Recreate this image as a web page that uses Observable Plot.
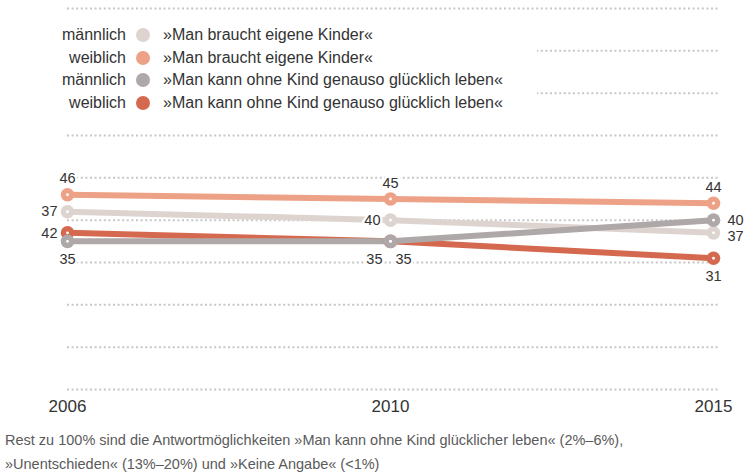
<!DOCTYPE html>
<html>
<head>
<meta charset="utf-8">
<script src="https://cdn.jsdelivr.net/npm/d3@7"></script>
<script src="https://cdn.jsdelivr.net/npm/@observablehq/plot@0.6"></script>
<style>
  body { margin: 0; background: #fff; font-family: "Liberation Sans", Arial, sans-serif; color: #333; }
  #wrap { position: relative; width: 744px; }
  #legend { position: absolute; left: 0; top: 20px; width: 537px; height: 100px; background: #fff; }
  .row { position: absolute; left: 0; height: 22px; font-size: 16px; line-height: 22px; white-space: nowrap; }
  .row .g { position: absolute; left: 0; width: 126px; text-align: right; }
  .row .sw { position: absolute; left: 136px; top: 4px; width: 14px; height: 14px; border-radius: 50%; }
  .row .t { position: absolute; left: 163px; }
  #caption { font-size: 14.5px; line-height: 24px; color: #5a5a5a; padding-left: 5px; margin-top: 8px; }
</style>
</head>
<body>
<div id="wrap"><div id="legend"></div></div>
<div id="caption"></div>
<script>
// ---- data ----
const years = [2006, 2010, 2015];
const seriesKeys = ["mEigene", "wEigene", "mOhne", "wOhne"];
const genders = ["männlich", "weiblich", "männlich", "weiblich"];
const statements = ["»Man braucht eigene Kinder«", "»Man braucht eigene Kinder«",
  "»Man kann ohne Kind genauso glücklich leben«", "»Man kann ohne Kind genauso glücklich leben«"];
const colors = ["#ddd4d0", "#eda287", "#aea8a8", "#d4694f"];
const mEigene = [42, 40, 37];
const wEigene = [46, 45, 44];
const mOhne = [35, 35, 40];
const wOhne = [37, 35, 31];
const mEigeneLabels = ["37", "40", "37"];
const wEigeneLabels = ["46", "45", "44"];
const mOhneLabels = ["35", "35", "40"];
const wOhneLabels = ["42", "35", "31"];
const gridValues = [90, 60, 50, 40, 30, 20, 10, 0];
const partialGridValues = [80, 70];
const captionLines = [
  "Rest zu 100% sind die Antwortmöglichkeiten »Man kann ohne Kind glücklicher leben« (2%–6%),",
  "»Unentschieden« (13%–20%) und »Keine Angabe« (<1%)"
];

// ---- build table ----
const valuesBy = {mEigene, wEigene, mOhne, wOhne};
const labelsBy = {mEigene: mEigeneLabels, wEigene: wEigeneLabels, mOhne: mOhneLabels, wOhne: wOhneLabels};
const drawOrder = ["mEigene", "wEigene", "wOhne", "mOhne"];
const rows = [];
for (const s of drawOrder) years.forEach((y, i) => rows.push({series: s, year: y, value: valuesBy[s][i], label: labelsBy[s][i]}));

// label placement (style, not data)
function place(d) {
  if (d.series === "wEigene") return "above";
  if (d.series === "mEigene") return d.year === 2015 ? "rightLow" : "left";
  if (d.series === "mOhne") return d.year === 2015 ? "rightHigh" : d.year === 2010 ? "belowRight" : "below";
  if (d.series === "wOhne") return d.year === 2006 ? "left" : d.year === 2010 ? "belowLeft" : "below";
}
const placements = {
  above: {dy: -16, textAnchor: "middle"},
  below: {dy: 18, textAnchor: "middle"},
  left: {dx: -10, textAnchor: "end"},
  rightHigh: {dx: 14, dy: 0, textAnchor: "start"},
  rightLow: {dx: 14, dy: 3, textAnchor: "start"},
  belowLeft: {dx: -8, dy: 18, textAnchor: "end"},
  belowRight: {dx: 5, dy: 18, textAnchor: "start"}
};
const labelMarks = Object.entries(placements).map(([k, o]) =>
  Plot.text(rows.filter(d => place(d) === k), {
    x: "year", y: "value", text: "label", ...o,
    fill: "#333", stroke: "white", strokeWidth: 5, fontSize: 14.5
  })
);

const grid = {stroke: "#c6c6c6", strokeWidth: 2, strokeDasharray: "2,2.6"};

const chart = Plot.plot({
  width: 744,
  height: 420,
  marginTop: 8,
  marginBottom: 31,
  marginLeft: 67,
  marginRight: 24,
  insetRight: 7,
  style: {fontFamily: "Liberation Sans, Arial, sans-serif", color: "#333", background: "white"},
  x: {type: "point", domain: years, padding: 0},
  y: {domain: [0, 90], axis: null},
  color: {domain: seriesKeys, range: colors},
  marks: [
    Plot.ruleY(gridValues.concat(partialGridValues), grid),
    Plot.axisX(years, {tickSize: 0, tickPadding: 10, fontSize: 17, fill: "#333", label: null, tickFormat: d => String(d)}),
    ...drawOrder.map(s => Plot.line(rows.filter(d => d.series === s), {x: "year", y: "value", stroke: "series", strokeWidth: 6})),
    ...drawOrder.map(s => Plot.dot(rows.filter(d => d.series === s), {x: "year", y: "value", fill: "series", r: 6.8})),
    Plot.dot(rows, {x: "year", y: "value", fill: "white", r: 1.4}),
    ...labelMarks
  ]
});
const wrap = document.getElementById("wrap");
wrap.insertBefore(chart, wrap.firstChild);

// legend overlay
const legend = document.getElementById("legend");
seriesKeys.forEach((s, i) => {
  const r = document.createElement("div");
  r.className = "row";
  r.style.top = (4 + i * 22.7) + "px";
  r.style.width = "537px";
  r.innerHTML = `<span class="g">${genders[i]}</span>` +
    `<span class="sw" style="background:${colors[i]}"></span>` +
    `<span class="t">${statements[i]}</span>`;
  legend.appendChild(r);
});

document.getElementById("caption").innerHTML = captionLines.map(l => l.replace(/</g, "&lt;")).join("<br>");
</script>
</body>
</html>
